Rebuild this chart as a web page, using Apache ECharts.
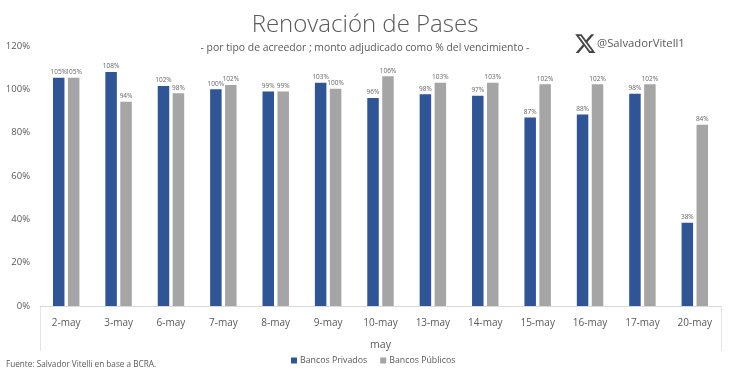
<!DOCTYPE html>
<html><head><meta charset="utf-8">
<style>html,body{margin:0;padding:0;background:#fff}#c{width:730px;height:374px}</style>
<script src="https://cdn.jsdelivr.net/npm/echarts@6/dist/echarts.min.js"></script>
</head><body><div id="c"></div>
<script>
const categories = ['2-may','3-may','6-may','7-may','8-may','9-may','10-may','13-may','14-may','15-may','16-may','17-may','20-may'];
const privados = [105.3,108,101.5,100,99,103,96,97.7,97,87,88.4,98,38.4];
const publicos = [105.3,94.3,98.2,102,99,100.3,106,103,103,102.3,102.3,102.3,83.7];
const yTicks = {min:0,max:120,interval:20};
const FONT = '"Open Sans","Noto Sans",sans-serif';
const LOGO = 'M18.244 2.25h3.308l-7.227 8.26 8.502 11.24H16.17l-5.214-6.817L4.99 21.75H1.68l7.73-8.835L1.254 2.25H8.08l4.713 6.231zm-1.161 17.52h1.833L7.084 4.126H5.117z';
echarts.graphic.registerShape('xLogo', echarts.graphic.extendPath(LOGO,{}));
const chart = echarts.init(document.getElementById('c'),null,{renderer:'canvas'});
const lbl = {show:true,position:'top',distance:2,fontSize:6.5,color:'#666',fontFamily:FONT,formatter:p=>Math.round(p.value)+'%'};
chart.setOption({
  animation:false,
  backgroundColor:'#fff',
  title:[
    {text:'Renovación de Pases',padding:0,left:365,top:13,textAlign:'center',textStyle:{fontFamily:FONT,fontWeight:300,fontSize:24,color:'#595959'}},
    {text:'- por tipo de acreedor ; monto adjudicado como % del vencimiento -',padding:0,left:365,top:43,textAlign:'center',textStyle:{fontFamily:FONT,fontWeight:400,fontSize:10.4,color:'#595959'}},
    {text:'@SalvadorVitell1',padding:0,left:597,top:38,textStyle:{fontFamily:FONT,fontWeight:400,fontSize:11.3,color:'#595959'}},
    {text:'Fuente: Salvador Vitelli en base a BCRA.',padding:0,left:6,top:361,textStyle:{fontFamily:FONT,fontWeight:400,fontSize:8.2,color:'#595959'}}
  ],
  legend:{padding:0,left:291,top:356,itemWidth:6,itemHeight:6,itemGap:13,icon:'rect',
    textStyle:{fontFamily:FONT,fontSize:8.8,color:'#595959',padding:[0,0,0,-2]},
    data:['Bancos Privados','Bancos Públicos']},
  grid:{left:40,right:9,top:46,bottom:68,containLabel:false},
  xAxis:{type:'category',data:categories,
    name:'may',nameLocation:'middle',nameGap:34,nameTextStyle:{fontFamily:FONT,fontSize:10.5,color:'#595959'},
    axisLine:{lineStyle:{color:'#d9d9d9',width:1}},axisTick:{show:false},
    axisLabel:{interval:0,fontFamily:FONT,fontSize:10,color:'#595959',margin:12},
    splitLine:{show:false}},
  yAxis:{type:'value',min:yTicks.min,max:yTicks.max,interval:yTicks.interval,
    axisLine:{show:false},axisTick:{show:false},splitLine:{show:false},
    axisLabel:{fontFamily:FONT,fontSize:9.5,color:'#595959',margin:10,formatter:v=>v+'%'}},
  series:[
    {name:'Bancos Privados',type:'bar',data:privados,barWidth:11.5,barGap:'30%',itemStyle:{color:'#2F5597'},label:lbl},
    {name:'Bancos Públicos',type:'bar',data:publicos,barWidth:11.5,barGap:'30%',itemStyle:{color:'#A5A5A5'},label:lbl}
  ],
  graphic:[
    {type:'line',shape:{x1:40.5,y1:306,x2:40.5,y2:351},style:{stroke:'#e4e4e4',lineWidth:1},silent:true},
    {type:'line',shape:{x1:721.5,y1:306,x2:721.5,y2:351},style:{stroke:'#e4e4e4',lineWidth:1},silent:true},
    {type:'xLogo',x:574,y:32,scaleX:0.94,scaleY:0.96,style:{fill:'#444'},silent:true}
  ]
});
</script></body></html>
